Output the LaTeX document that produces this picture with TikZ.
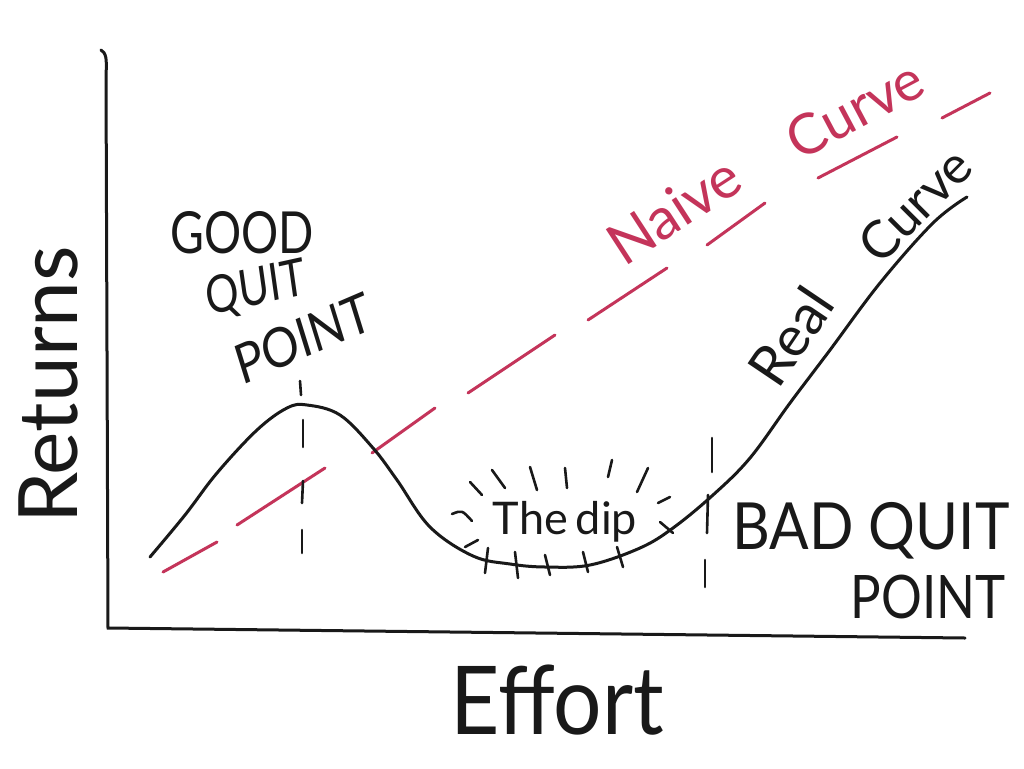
\documentclass[tikz,border=0pt]{standalone}
\usepackage{fontspec}
\setmainfont{Lato}
\newcommand\hsz[1]{\fontsize{#1}{#1}\selectfont}
\definecolor{naivered}{RGB}{196,52,90}
\definecolor{ink}{RGB}{25,25,25}
\tikzset{
  blk/.style={line width=3pt, line cap=round, ink},
  tick/.style={line width=2.6pt, line cap=round, ink},
  naive/.style={line width=3pt, line cap=round, naivered},
  lbl/.style={inner sep=0pt, text=ink},
  rlbl/.style={inner sep=0pt, text=naivered},
}
\begin{document}
\begin{tikzpicture}[x=1pt,y=-1pt]
\useasboundingbox[fill=white] (0,0) rectangle (1024,768);
% axes
\draw[blk] (101,50) .. controls (106,53) and (107,58) .. (106,75) -- (108,628) -- (965,638);
% axis labels
\node[lbl, rotate=90] (ret) at (48,385) {\hsz{82}Returns};
\node[lbl, xscale=0.9] (eff) at (557,700) {\hsz{95}Effort};
% naive curve (dashed red)
\draw[naive] (163,572) -- (217,542);
\draw[naive] (237,525) -- (325,468);
\draw[naive] (372,453) -- (435,408);
\draw[naive] (468,393) -- (555,335);
\draw[naive] (588,320) -- (667,268);
\draw[naive] (707,245) -- (765,203);
\draw[naive] (818,178) -- (897,137);
\draw[naive] (942,118) -- (990,93);
\node[rlbl, rotate=33] (naive) at (674,210) {\hsz{58}Naive};
\node[rlbl, rotate=28] (ncurve) at (855,109) {\hsz{56}Curve};
% real curve
\draw[blk] plot[smooth, tension=0.6] coordinates {
 (150,557) (185,515) (217,473) (257,430) (287,408) (307,405) (340,415)
 (373,448) (397,480) (430,527) (473,556) (510,564) (545,567) (590,565)
 (640,548) (673,528) (713,495) (750,458) (790,403) (830,350) (880,283)
 (933,223) (967,197)};
\node[lbl, rotate=56] (real) at (791,336) {\hsz{56}Real};
\node[lbl, rotate=45] (rcurve) at (915,205) {\hsz{52}Curve};
% good quit point
\draw[tick] (300,381) -- (301,395);
\draw[tick] (303,420) -- (303,447);
\draw[tick] (303,481) -- (302,503);
\draw[tick] (302,530) -- (302,553);
\node[lbl, xscale=0.8] (good) at (242,233) {\hsz{58}GOOD};
\node[lbl, xscale=0.8, rotate=10] (quit) at (256,290) {\hsz{52}QUIT};
\node[lbl, xscale=0.85, rotate=20] (point) at (303,338) {\hsz{55}POINT};
% bad quit point
\draw[tick] (712,438) -- (712,472);
\draw[tick] (708,495) -- (707,533);
\draw[tick] (705,560) -- (705,587);
\node[lbl, xscale=0.9] (bad) at (871,531) {\hsz{65}BAD QUIT};
\node[lbl, xscale=0.85] (bpoint) at (928,597) {\hsz{60}POINT};
% the dip
\node[lbl] (dip) at (565,522) {\hsz{45}The\hspace{8pt}dip};
\draw[tick] (470,482) -- (482,495);
\draw[tick] (492,470) -- (505,488);
\draw[tick] (530,467) -- (537,490);
\draw[tick] (565,468) -- (567,488);
\draw[tick] (612,460) -- (608,477);
\draw[tick] (648,468) -- (637,492);
\draw[tick] (670,497) -- (658,503);
\draw[tick] (452,514) .. controls (462,510) .. (472,521);
\draw[tick] (465,547) -- (478,540);
\draw[tick] (660,522) -- (673,533);
\draw[tick] (488,548) -- (485,573);
\draw[tick] (515,552) -- (518,578);
\draw[tick] (545,555) -- (550,575);
\draw[tick] (583,552) -- (588,572);
\draw[tick] (617,547) -- (623,567);
\end{tikzpicture}
\end{document}
